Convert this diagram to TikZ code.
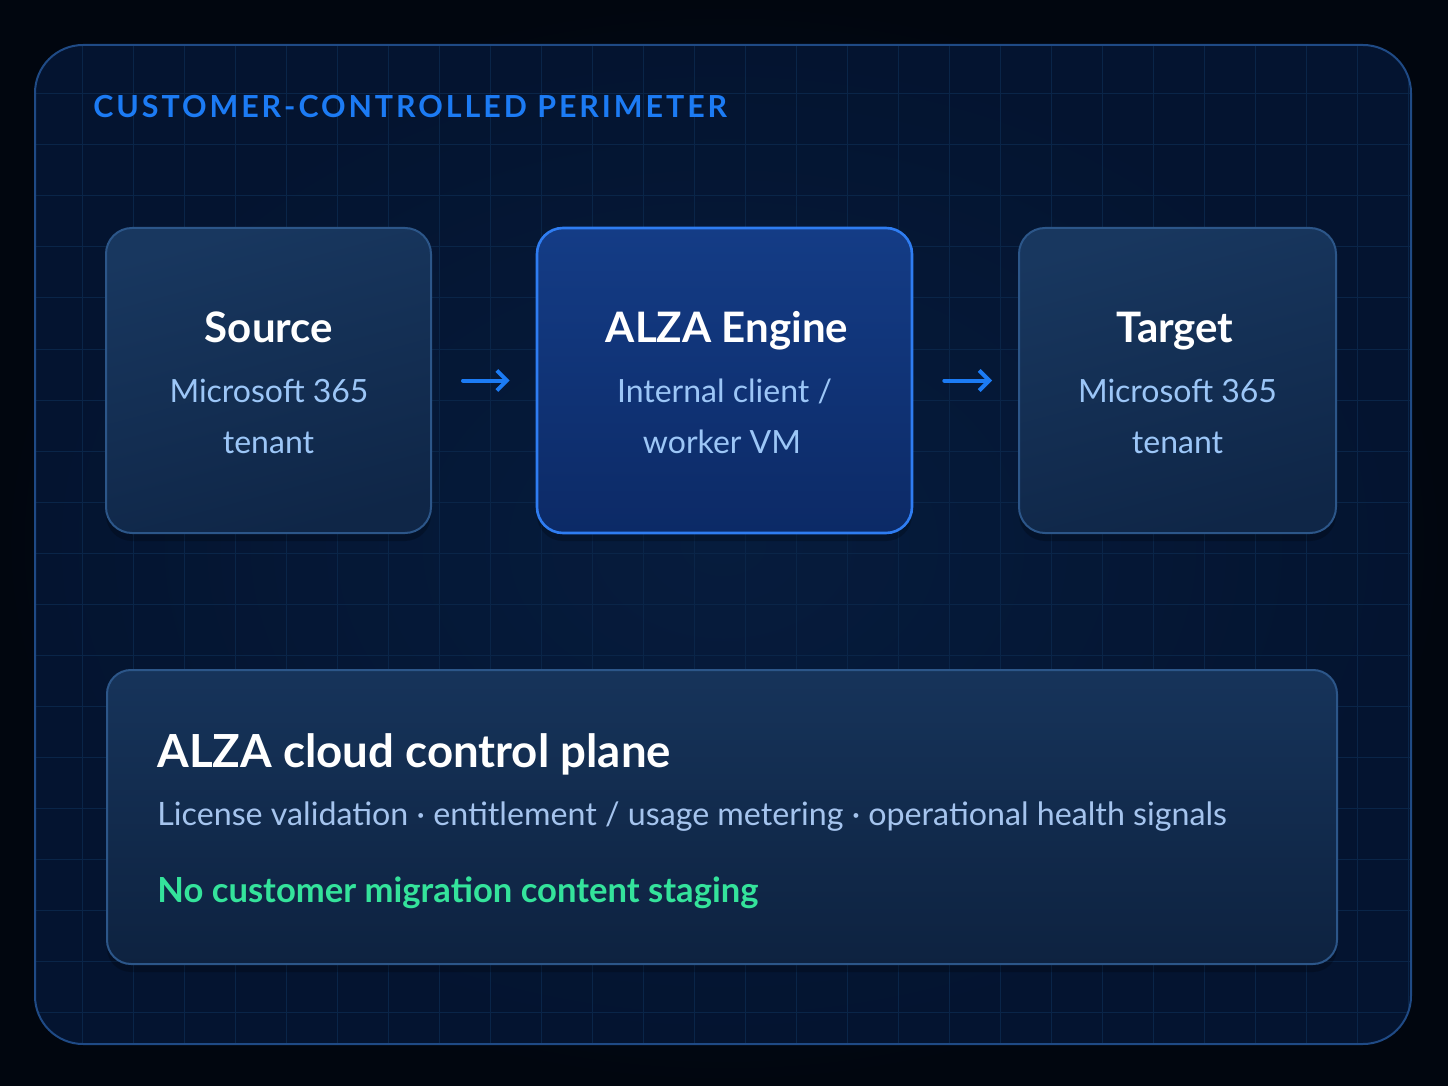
\documentclass[tikz,border=0pt]{standalone}
\usepackage{fontspec}
\setmainfont{Lato}
\newfontfamily\trackedfont{Lato}[LetterSpace=9.7]
\usetikzlibrary{arrows.meta,shadows}

\definecolor{pageedge}{HTML}{01060F}
\definecolor{pagemid}{HTML}{061530}
\definecolor{perimin}{HTML}{061C3D}
\definecolor{perimout}{HTML}{041430}
\definecolor{perimline}{HTML}{1F4A85}
\definecolor{gridline}{HTML}{0A2548}
\definecolor{cardtop}{HTML}{18375F}
\definecolor{cardbot}{HTML}{0F2647}
\definecolor{cardline}{HTML}{2C5689}
\definecolor{enginetop}{HTML}{143C86}
\definecolor{enginebot}{HTML}{0C2A66}
\definecolor{engineline}{HTML}{2F7DF2}
\definecolor{accent}{HTML}{1C7BF4}
\definecolor{subtext}{HTML}{9CC6F7}
\definecolor{dutytext}{HTML}{A5C4EE}
\definecolor{oktext}{HTML}{34E39B}

\begin{document}
\begin{tikzpicture}[x=0.5pt,y=-0.5pt,
  card/.style={shape=rectangle,rounded corners=13pt,draw=cardline,line width=1pt,
    top color=cardtop,bottom color=cardbot,shading angle=15,minimum height=152.5pt,
    drop shadow={shadow xshift=0pt,shadow yshift=-4pt,opacity=0.22,fill=black}},
  engcard/.style={card,draw=engineline,line width=1.3pt,top color=enginetop,bottom color=enginebot},
  cardname/.style={anchor=base,inner sep=0pt,text=white,font=\bfseries\fontsize{21}{24}\selectfont},
  cardsub/.style={anchor=base,inner sep=0pt,text=subtext,font=\fontsize{16}{18}\selectfont},
  flow/.style={-{Straight Barb[length=5pt,width=10pt]},line width=2pt,accent,
    line cap=round,shorten <=15.5pt,shorten >=13pt}]
\useasboundingbox (0,0) rectangle (1448,1086);
\shade[inner color=pagemid,outer color=pageedge] (0,0) rectangle (1448,1086);

% perimeter with its grid
\shade[rounded corners=24pt,inner color=perimin,outer color=perimout] (35,45) rectangle (1411,1044);
\begin{scope}
\clip[rounded corners=24pt] (35,45) rectangle (1411,1044);
\foreach \gx in {82,133,...,1410} \draw[gridline,line width=0.5pt] (\gx,45) -- (\gx,1044);
\foreach \gy in {94,145,...,1044} \draw[gridline,line width=0.5pt] (35,\gy) -- (1411,\gy);
\end{scope}
\draw[perimline,line width=1pt,rounded corners=24pt] (35,45) rectangle (1411,1044);
\node (perimname) at (93,118) [anchor=base west,inner sep=0pt,text=accent,font=\trackedfont\bfseries\fontsize{15.2}{18}\selectfont]{CUSTOMER-CONTROLLED PERIMETER};

% the three stages
\node (src) at (268.5,380.5) [card,minimum width=162.5pt]{};
\node (eng) at (724.5,380.5) [engcard,minimum width=187.5pt]{};
\node (tgt) at (1177.5,380.5) [card,minimum width=158.5pt]{};

\node (srcname) at (269,343) [cardname]{Source};
\node (srcsub1) at (269,402) [cardsub]{Microsoft 365};
\node (srcsub2) at (268.5,453) [cardsub]{tenant};
\node (engname) at (727,343) [cardname]{ALZA Engine};
\node (engsub1) at (724.5,402) [cardsub]{Internal client /};
\node (engsub2) at (722,453) [cardsub]{worker VM};
\node (tgtname) at (1175,343) [cardname]{Target};
\node (tgtsub1) at (1177.5,402) [cardsub]{Microsoft 365};
\node (tgtsub2) at (1177.5,453) [cardsub]{tenant};

\draw [flow] (src) to (eng);
\draw [flow] (eng) to (tgt);

% control plane
\node (ctrl) at (722,817) [card,minimum width=615pt,minimum height=147pt,rounded corners=12pt,
  top color=cardtop!80!cardbot,bottom color=cardbot!90!black]{};
\node (ctrlname) at (157,767) [anchor=base west,inner sep=0pt,text=white,font=\bfseries\fontsize{22.8}{26}\selectfont]{ALZA cloud control plane};
\node (ctrlduties) at (157,825) [anchor=base west,inner sep=0pt,text=dutytext,font=\fontsize{16.1}{19}\selectfont]{License validation · entitlement / usage metering · operational health signals};
\node (ctrlnote) at (157,902) [anchor=base west,inner sep=0pt,text=oktext,font=\bfseries\fontsize{17.3}{19}\selectfont]{No customer migration content staging};
\end{tikzpicture}
\end{document}
